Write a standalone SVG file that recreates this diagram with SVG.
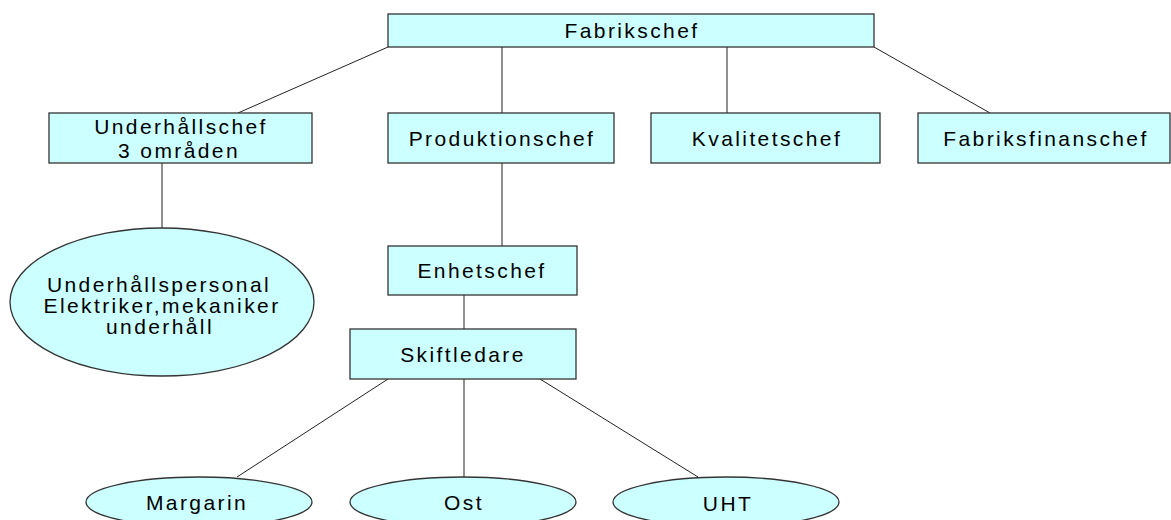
<svg xmlns="http://www.w3.org/2000/svg" width="1171" height="520" viewBox="0 0 1171 520">
<style>
.box{fill:#CCFFFF;stroke:#333;stroke-width:1.3}
.con{stroke:#222;stroke-width:1;fill:none}
text{font-family:"Liberation Sans",Arial,sans-serif;font-size:21px;letter-spacing:2.4px;fill:#000;text-anchor:middle}
</style>
<rect width="1171" height="520" fill="#fff"/>
<g id="connectors">
<line class="con" x1="388" y1="47" x2="238" y2="113"/>
<line class="con" x1="502" y1="47" x2="502" y2="113"/>
<line class="con" x1="727" y1="47" x2="727" y2="113"/>
<line class="con" x1="874" y1="47" x2="990" y2="113"/>
<line class="con" x1="162" y1="163" x2="162" y2="228"/>
<line class="con" x1="502" y1="163" x2="502" y2="246"/>
<line class="con" x1="464" y1="295" x2="464" y2="329"/>
<line class="con" x1="388" y1="379" x2="237" y2="477"/>
<line class="con" x1="464" y1="379" x2="464" y2="477"/>
<line class="con" x1="540" y1="379" x2="698" y2="477"/>
</g>
<g id="fabrikschef"><rect class="box" x="388" y="14" width="486" height="33"/><text x="632" y="38">Fabrikschef</text></g>
<g id="underhallschef"><rect class="box" x="49" y="113" width="263" height="50"/><text x="181" y="134">Underhållschef</text><text x="179" y="158">3 områden</text></g>
<g id="produktionschef"><rect class="box" x="388" y="113" width="226" height="50"/><text x="502" y="146">Produktionschef</text></g>
<g id="kvalitetschef"><rect class="box" x="651" y="113" width="229" height="50"/><text x="767" y="146">Kvalitetschef</text></g>
<g id="fabriksfinanschef"><rect class="box" x="918" y="113" width="252" height="50"/><text x="1046" y="146">Fabriksfinanschef</text></g>
<g id="underhallspersonal"><ellipse class="box" cx="162" cy="302" rx="152" ry="74"/><text x="159" y="292">Underhållspersonal</text><text x="162" y="313">Elektriker,mekaniker</text><text x="160" y="334">underhåll</text></g>
<g id="enhetschef"><rect class="box" x="388" y="246" width="189" height="49"/><text x="482" y="278">Enhetschef</text></g>
<g id="skiftledare"><rect class="box" x="350" y="329" width="226" height="50"/><text x="463" y="362">Skiftledare</text></g>
<g id="margarin"><ellipse class="box" cx="199" cy="502" rx="113" ry="25"/><text x="197" y="510">Margarin</text></g>
<g id="ost"><ellipse class="box" cx="463" cy="502" rx="113" ry="25"/><text x="464" y="510">Ost</text></g>
<g id="uht"><ellipse class="box" cx="726" cy="502" rx="113" ry="25"/><text x="728" y="511">UHT</text></g>
</svg>
